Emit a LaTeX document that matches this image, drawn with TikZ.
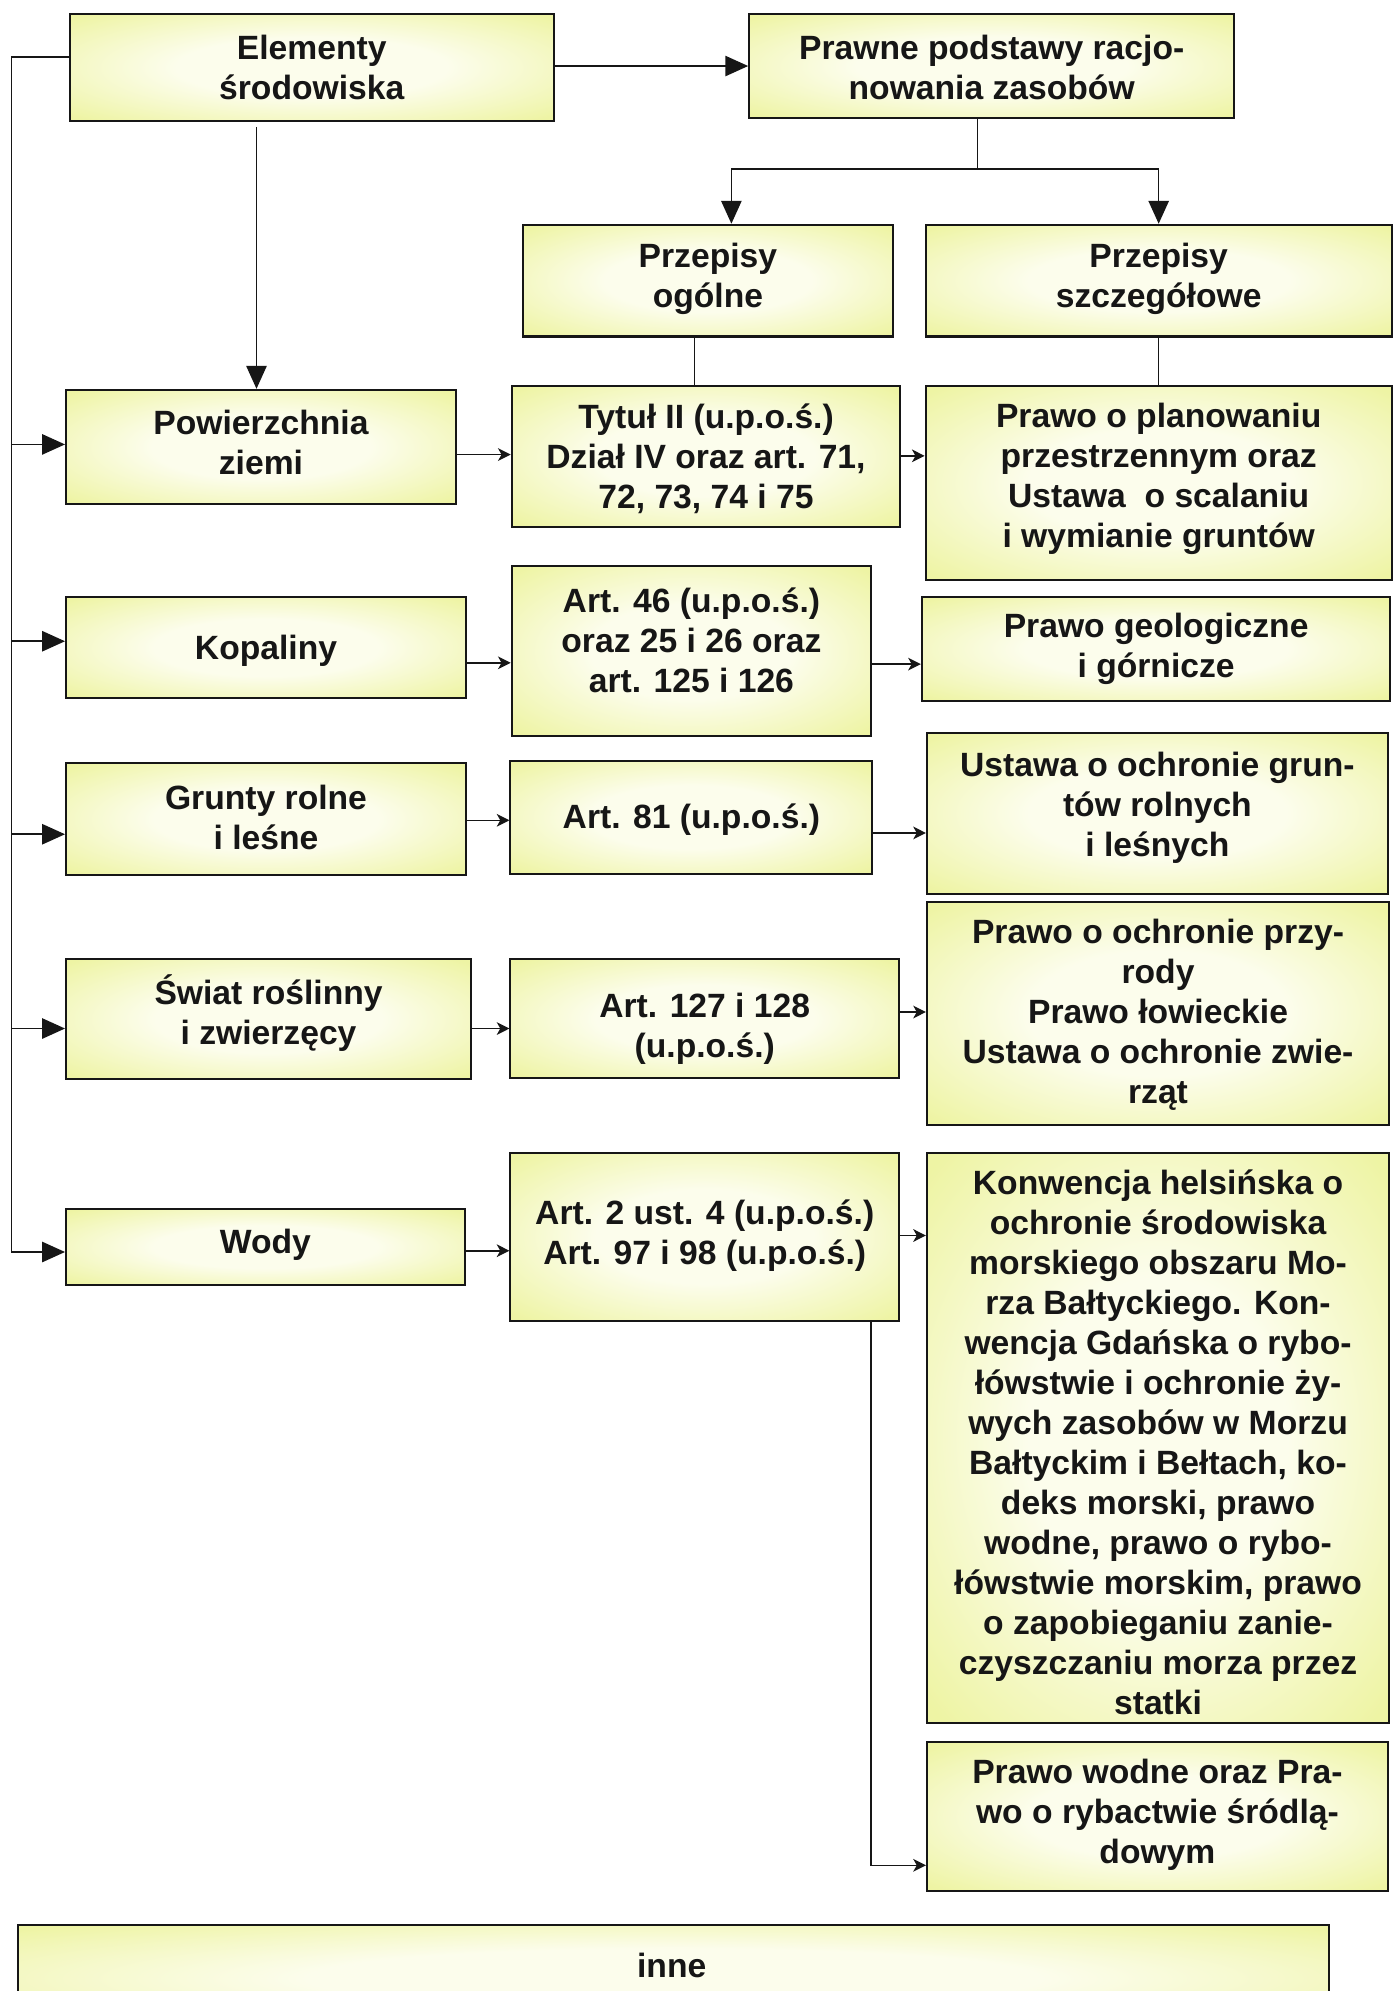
\documentclass[tikz,border=0pt]{standalone}
\usepackage{fontspec}
\setmainfont{Liberation Sans}
\usetikzlibrary{arrows.meta,fit}

\definecolor{boxfill}{RGB}{238,244,164}
\definecolor{glowin}{RGB}{252,253,236}
\definecolor{ink}{RGB}{22,22,22}
\pgfdeclareradialshading{boxglow}{\pgfpoint{0bp}{0bp}}{color(0bp)=(glowin); color(14bp)=(glowin); color(34bp)=(boxfill); color(50bp)=(boxfill)}

\tikzset{
  box/.style={rectangle, draw=ink, line width=0.8pt, shade, shading=boxglow, inner sep=0pt},
  txt/.style={align=center, font=\fontsize{13.25}{15.75}\selectfont\bfseries, text=ink, inner sep=0pt, yshift=-1.25pt},
  link/.style={draw=ink, line width=0.6pt},
  bigarrow/.style={link, -{Triangle[length=9pt,width=8pt]}},
  smallarrow/.style={link, -{Stealth[length=5pt,width=5pt,inset=1.4pt]}}
}

\begin{document}
\begin{tikzpicture}[x=0.5pt, y=-0.5pt]
\useasboundingbox (0,0) rectangle (1097,1568);
\fill[white] (0,0) rectangle (1097,1568);
\clip (0,0) rectangle (1097,1568);

% ---- boxes ----
\node[box, fit={(55,11) (436,95)}]     (elem)   {};
\node[box, fit={(590,11) (972,93)}]    (prawne) {};
\node[box, fit={(412,177) (703,265)}]  (ogolne) {};
\node[box, fit={(729,177) (1096,265)}] (szczeg) {};
\node[box, fit={(52,307) (359,397)}]   (pow)    {};
\node[box, fit={(403,304) (709,415)}]  (tytul)  {};
\node[box, fit={(729,304) (1096,457)}] (plan)   {};
\node[box, fit={(52,470) (367,550)}]   (kop)    {};
\node[box, fit={(403,446) (686,580)}]  (art46)  {};
\node[box, fit={(726,470) (1095,552)}] (geol)   {};
\node[box, fit={(52,601) (367,689)}]   (grunty) {};
\node[box, fit={(402,599) (687,688)}]  (art81)  {};
\node[box, fit={(730,577) (1093,704)}] (ustgr)  {};
\node[box, fit={(52,755) (371,850)}]   (swiat)  {};
\node[box, fit={(402,755) (708,849)}]  (art127) {};
\node[box, fit={(730,710) (1094,886)}] (przyr)  {};
\node[box, fit={(52,952) (366,1012)}]  (wody)   {};
\node[box, fit={(402,908) (708,1040)}] (art2)   {};
\node[box, fit={(730,908) (1094,1357)}] (konw)  {};
\node[box, fit={(730,1372) (1093,1489)}] (wodne) {};
\node[box, fit={(14,1516) (1047,1600)}] (inne)  {};

% ---- texts ----
\node[txt] (elem-t)   at (245.5,51)  {Elementy\\środowiska};
\node[txt] (prawne-t) at (781,51)    {Prawne podstawy racjo-\\nowania zasobów};
\node[txt] (ogolne-t) at (557.5,217) {Przepisy\\ogólne};
\node[txt] (szczeg-t) at (912.5,217) {Przepisy\\szczegółowe};
\node[txt] (pow-t)    at (205.5,346) {Powierzchnia\\ziemi};
\node[txt] (tytul-t)  at (556,359)   {Tytuł II (u.p.o.ś.)\\Dział IV oraz art. 71,\\72, 73, 74 i 75};
\node[txt] (plan-t)   at (912.5,375) {Prawo o planowaniu\\przestrzennym oraz\\Ustawa~ o scalaniu\\i wymianie gruntów};
\node[txt] (kop-t)    at (209.5,510) {Kopaliny};
\node[txt] (art46-t)  at (544.5,502) {Art. 46 (u.p.o.ś.)\\oraz 25 i 26 oraz\\art. 125 i 126};
\node[txt] (geol-t)   at (910.5,508.5) {Prawo geologiczne\\i górnicze};
\node[txt] (grunty-t) at (209.5,641.5) {Grunty rolne\\i leśne};
\node[txt] (art81-t)  at (544.5,643) {Art. 81 (u.p.o.ś.)};
\node[txt] (ustgr-t)  at (911.5,633.5) {Ustawa o ochronie grun-\\tów rolnych\\i leśnych};
\node[txt] (swiat-t)  at (211.5,795.5) {Świat roślinny\\i zwierzęcy};
\node[txt] (art127-t) at (555,808)   {Art. 127 i 128\\(u.p.o.ś.)};
\node[txt] (przyr-t)  at (912,797)   {Prawo o ochronie przy-\\rody\\Prawo łowieckie\\Ustawa o ochronie zwie-\\rząt};
\node[txt] (wody-t)   at (209,978)   {Wody};
\node[txt] (art2-t)   at (555,971)   {Art. 2 ust. 4 (u.p.o.ś.)\\Art. 97 i 98 (u.p.o.ś.)};
\node[txt] (konw-t)   at (912,1133.5) {Konwencja helsińska o\\ochronie środowiska\\morskiego obszaru Mo-\\rza Bałtyckiego. Kon-\\wencja Gdańska o rybo-\\łówstwie i ochronie ży-\\wych zasobów w Morzu\\Bałtyckim i Bełtach, ko-\\deks morski, prawo\\wodne, prawo o rybo-\\łówstwie morskim, prawo\\o zapobieganiu zanie-\\czyszczaniu morza przez\\statki};
\node[txt] (wodne-t)  at (911.5,1427) {Prawo wodne oraz Pra-\\wo o rybactwie śródlą-\\dowym};
\node[txt] (inne-t)   at (529,1545)  {inne};

% ---- top connectors ----
\draw[bigarrow] (elem.east |- 0,52) -- (prawne.west |- 0,52);
\coordinate (e-dn) at (202,100);
\draw[bigarrow] (e-dn) -- (e-dn |- pow.north);
\coordinate (split) at (770,133);
\draw[link] (prawne.south -| split) -- (split);
\draw[bigarrow] (split) -| ([xshift=9.25pt]ogolne.north);
\draw[bigarrow] (split) -| (szczeg.north);
\draw[link] ([xshift=-5.25pt]ogolne.south) -- ([xshift=-5.25pt]ogolne.south |- tytul.north);
\draw[link] (szczeg.south) -- (szczeg.south |- plan.north);

% ---- left spine ----
\coordinate (sp0) at (9,45);
\coordinate (b1) at (9,350);
\coordinate (b2) at (9,505);
\coordinate (b3) at (9,657);
\coordinate (b4) at (9,810);
\coordinate (b5) at (9,986);
\draw[link] (elem.west |- sp0) -- (sp0) -- (b5);
\draw[bigarrow] (b1) -- (b1 -| pow.west);
\draw[bigarrow] (b2) -- (b2 -| kop.west);
\draw[bigarrow] (b3) -- (b3 -| grunty.west);
\draw[bigarrow] (b4) -- (b4 -| swiat.west);
\draw[bigarrow] (b5) -- (b5 -| wody.west);

% ---- left to middle column ----
\draw[smallarrow] (pow.east |- 0,358)    -- (tytul.west |- 0,358);
\draw[smallarrow] (kop.east |- 0,522)    -- (art46.west |- 0,522);
\draw[smallarrow] (grunty.east |- 0,646) -- (art81.west |- 0,646);
\draw[smallarrow] (swiat.east |- 0,810)  -- (art127.west |- 0,810);
\draw[smallarrow] (wody.east |- 0,985)   -- (art2.west |- 0,985);

% ---- middle to right column ----
\draw[smallarrow] (tytul.east |- 0,359)  -- (plan.west |- 0,359);
\draw[smallarrow] (art46.east |- 0,523)  -- (geol.west |- 0,523);
\draw[smallarrow] (art81.east |- 0,656)  -- (ustgr.west |- 0,656);
\draw[smallarrow] (art127.east |- 0,797) -- (przyr.west |- 0,797);
\draw[smallarrow] (art2.east |- 0,973)   -- (konw.west |- 0,973);
\coordinate (w-turn) at (686,1469);
\draw[smallarrow] (art2.south -| w-turn) -- (w-turn) -- (w-turn -| wodne.west);
\end{tikzpicture}
\end{document}
